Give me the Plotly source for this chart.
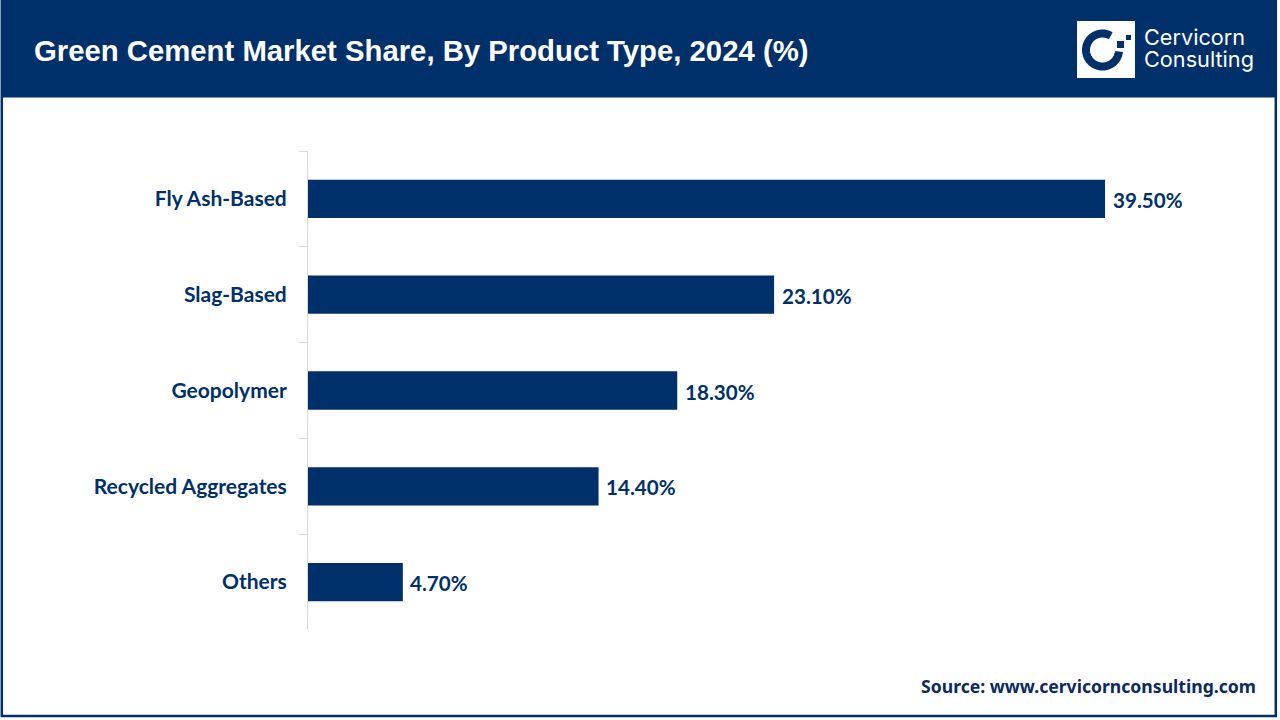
import math
import plotly.graph_objects as go

categories = ['Fly Ash-Based', 'Slag-Based', 'Geopolymer', 'Recycled Aggregates', 'Others']
shares = [39.5, 23.1, 18.3, 14.4, 4.7]
labels = [f'{v:.2f}%' for v in shares]

NAVY = '#003069'
W, H = 1280, 720
LEFT, RIGHT, TOP, BOTTOM = 308, 1216, 151, 630


# page pixels to paper coordinates, for the header and logo
def px(x):
    return (x - LEFT) / (RIGHT - LEFT)


def py(y):
    return (BOTTOM - y) / (BOTTOM - TOP)


def page_rect(x0, y0, x1, y1, **kw):
    return dict(type='rect', xref='paper', yref='paper', x0=px(x0), y0=py(y0), x1=px(x1), y1=py(y1), **kw)


def page_text(x, y, text, size, color, anchor='left', family='Liberation Sans', weight=700):
    return dict(xref='paper', yref='paper', x=px(x), y=py(y), text=text, showarrow=False,
                xanchor=anchor, yanchor='middle', align=anchor,
                font=dict(family=family, size=size, color=color, weight=weight))


# the C of the logo, clockwise on screen from the right side round to the top
arc = []
for deg in range(5, 301, 5):
    a = math.radians(deg)
    arc.append(f'{px(1102.5 + 16.5 * math.cos(a))} {py(50 + 16.5 * math.sin(a))}')
arc_path = 'M ' + ' L '.join(arc)

fig = go.Figure()

fig.add_trace(go.Bar(
    x=shares,
    y=categories,
    orientation='h',
    marker=dict(color=NAVY, line_width=0),
    width=0.4
))

shapes = [
    # header band and outer frame
    page_rect(1, 0, 1277, 97.5, fillcolor=NAVY, line_width=0, layer='below'),
    page_rect(1.8, 1, 1275.8, 716, line=dict(color=NAVY, width=2.5), layer='below'),
    # logo
    page_rect(1077, 21, 1135, 78, fillcolor='white', line_width=0),
    dict(type='path', xref='paper', yref='paper', line=dict(color=NAVY, width=8), path=arc_path),
    page_rect(1117, 41, 1124, 48, fillcolor=NAVY, line_width=0),
    page_rect(1126, 35, 1131, 40, fillcolor=NAVY, line_width=0),
]

annotations = [
    page_text(32, 51, 'Green Cement Market Share, By Product Type, 2024 (%)', 29.3, 'white'),
    page_text(1142, 37, 'Cervicorn', 21.7, 'white', family='Inter', weight=400),
    page_text(1142, 59, 'Consulting', 21.7, 'white', family='Inter', weight=400),
    page_text(1258, 686, 'Source: www.cervicornconsulting.com', 17.6, '#0B2A63', anchor='right', family='Noto Sans'),
]

# value labels sit a fixed distance past the bar ends
for cat, v, lab in zip(categories, shares, labels):
    annotations.append(dict(
        x=v, y=cat, xref='x', yref='y', text=lab, showarrow=False,
        xanchor='left', yanchor='middle', xshift=5.5, yshift=-1,
        font=dict(family='Lato', size=20.6, color=NAVY, weight=700)
    ))

fig.update_layout(
    width=W,
    height=H,
    margin=dict(l=LEFT, r=W - RIGHT, t=TOP, b=H - BOTTOM, pad=0, autoexpand=False),
    paper_bgcolor='white',
    plot_bgcolor='white',
    showlegend=False,
    shapes=shapes,
    annotations=annotations,
    xaxis=dict(visible=False, range=[0, 45], showgrid=False, zeroline=False),
    yaxis=dict(
        type='category',
        categoryorder='array',
        categoryarray=categories,
        autorange='reversed',
        showgrid=False,
        zeroline=False,
        showline=True,
        linecolor='#D9D9D9',
        linewidth=1,
        ticks='outside',
        tickson='boundaries',
        ticklen=8,
        tickcolor='#D9D9D9',
        tickwidth=1,
        ticklabelstandoff=16,
        tickfont=dict(family='Lato', size=21, color=NAVY, weight=700)
    )
)

# the browser's default body margin would push the figure 8px off the page
fig.write_html('out.html', config=dict(displayModeBar=False),
               post_script="document.body.style.margin='0';document.body.style.overflow='hidden';")
